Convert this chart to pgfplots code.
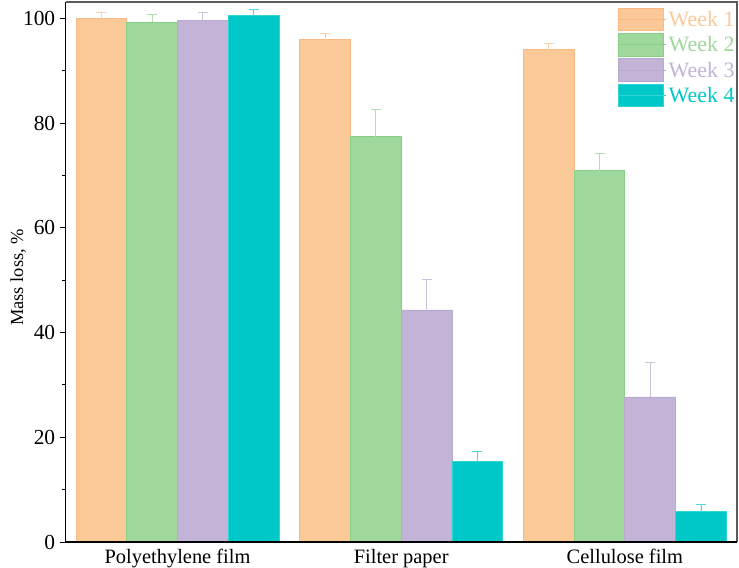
\documentclass[border=0pt]{standalone}
\usepackage{pgfplots}
\pgfplotsset{compat=1.18}
\usepackage{fontspec}
\setmainfont{Liberation Serif}
\definecolor{cA}{HTML}{FBC898}
\definecolor{cAe}{HTML}{F8BA82}
\definecolor{cB}{HTML}{9ED89C}
\definecolor{cBe}{HTML}{86CF84}
\definecolor{cC}{HTML}{C2B3D7}
\definecolor{cCe}{HTML}{B9A8D1}
\definecolor{cD}{HTML}{00C8C8}
\definecolor{cDe}{HTML}{2ED6D6}
\definecolor{axgray}{HTML}{5A5A5A}
\begin{document}
\begin{tikzpicture}
\begin{axis}[
  at={(0,0)}, anchor=south west,
  scale only axis, width=671bp, height=540bp,
  xmin=0.5, xmax=3.5, ymin=0, ymax=103.1,
  ybar=0pt, bar width=50.7bp,
  xtick={1,2,3},
  xticklabels={Polyethylene film, Filter paper, Cellulose film},
  x tick style={draw=none},
  ytick={0,20,40,60,80,100},
  minor y tick num=1,
  y tick style={black, line width=0.8pt},
  tick align=outside,
  major tick length=6bp, minor tick length=3.5bp,
  xtick pos=bottom, ytick pos=left,
  axis line style={draw=none},
  yticklabel style={font=\fontsize{21.5}{23}\selectfont, xshift=-1bp},
  xticklabel style={font=\fontsize{20.5}{22}\selectfont, yshift=2bp},
  /pgf/number format/assume math mode=true,
  ylabel={Mass loss, \%},
  ylabel style={font=\fontsize{18.5}{20}\selectfont, at={(axis description cs:-0.071,0.49)}, anchor=center},
  legend style={at={(rel axis cs:1,1)}, anchor=north east, yshift=-5.5bp, xshift=0bp,
    draw=none, fill=none, font=\fontsize{22}{24}\selectfont,
    row sep=2bp, inner sep=0pt, cells={anchor=west}},
  legend image code/.code={\draw[#1, line width=0.8pt] (0bp,-11.3bp) rectangle (45bp,11.3bp); \path (0bp,0bp) -- (48bp,0bp);},
  error bars/y dir=plus, error bars/y explicit,
  clip=false,
]
\addplot[fill=cA, draw=cAe, line width=0.8pt,
  error bars/error bar style={draw=cA!80!white, line width=0.8pt},
  error bars/error mark options={draw=cA!80!white, mark size=5bp, line width=0.8pt, rotate=90}]
  coordinates {(1,100.0) +- (0,1.2) (2,95.9) +- (0,1.2) (3,94.0) +- (0,1.2)};
\addlegendentry{\textcolor{cA}{Week 1}}
\addplot[fill=cB, draw=cBe, line width=0.8pt,
  error bars/error bar style={draw=cB!80!white, line width=0.8pt},
  error bars/error mark options={draw=cB!80!white, mark size=5bp, line width=0.8pt, rotate=90}]
  coordinates {(1,99.2) +- (0,1.5) (2,77.4) +- (0,5.2) (3,70.9) +- (0,3.3)};
\addlegendentry{\textcolor{cB}{Week 2}}
\addplot[fill=cC, draw=cCe, line width=0.8pt,
  error bars/error bar style={draw=cC!80!white, line width=0.8pt},
  error bars/error mark options={draw=cC!80!white, mark size=5bp, line width=0.8pt, rotate=90}]
  coordinates {(1,99.6) +- (0,1.6) (2,44.3) +- (0,5.9) (3,27.7) +- (0,6.5)};
\addlegendentry{\textcolor{cC}{Week 3}}
\addplot[fill=cD, draw=cDe, line width=0.8pt,
  error bars/error bar style={draw=cD!70!white, line width=0.8pt},
  error bars/error mark options={draw=cD!70!white, mark size=5bp, line width=0.8pt, rotate=90}]
  coordinates {(1,100.5) +- (0,1.2) (2,15.3) +- (0,2.0) (3,5.8) +- (0,1.3)};
\addlegendentry{\textcolor{cD}{Week 4}}
\draw[axgray, line width=1.6pt] (rel axis cs:0,1) -- (rel axis cs:1,1) -- (rel axis cs:1,0);
\draw[black, line width=1.2pt] (rel axis cs:0,1) -- (rel axis cs:0,0) -- (rel axis cs:1,0);
\end{axis}
\pgfresetboundingbox
\path (-65.7bp,-26bp) rectangle (673.3bp,542bp);
\end{tikzpicture}
\end{document}
